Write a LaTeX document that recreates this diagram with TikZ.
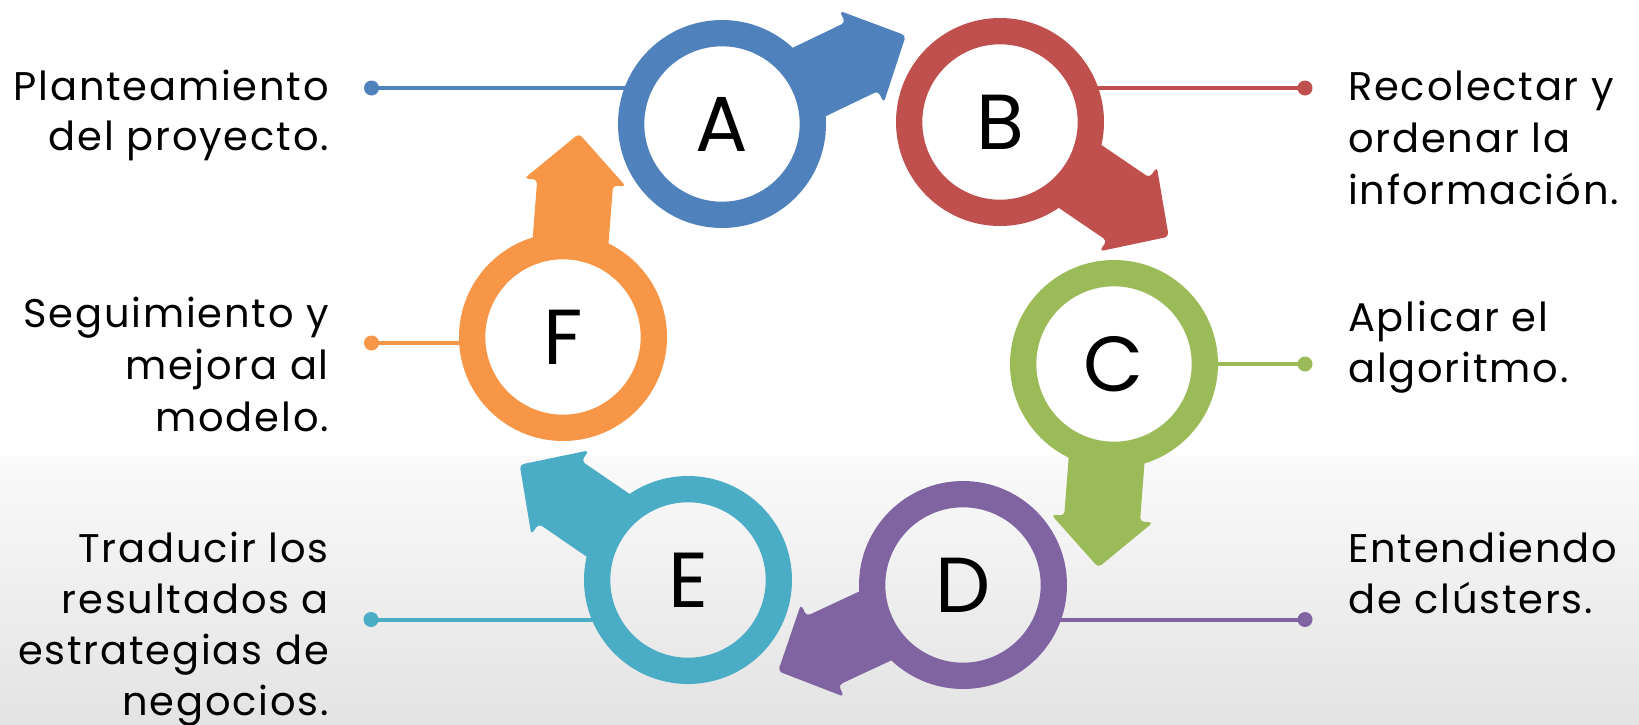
\documentclass[tikz,border=0pt]{standalone}
\usepackage{fontspec}
\setmainfont{Poppins}
\newfontfamily\lblfont{Poppins}[LetterSpace=4.5]
\usetikzlibrary{calc}
\definecolor{cA}{HTML}{4F81BD}
\definecolor{cB}{HTML}{C0504D}
\definecolor{cC}{HTML}{9BBB59}
\definecolor{cD}{HTML}{8064A2}
\definecolor{cE}{HTML}{4BACC6}
\definecolor{cF}{HTML}{F79646}
\newcommand{\ringarrow}[3]{%
  \fill[#2, even odd rule] (#1.center) circle[radius=104pt] (#1.center) circle[radius=77.7pt];
  \fill[#2, rounded corners=4pt, shift={(#1.center)}, rotate=#3]
    (85,-38) -- (155,-38) -- (155,-51) -- (204,0) -- (155,51) -- (155,38) -- (85,38) -- cycle;
}
\begin{document}
\begin{tikzpicture}[x=1pt,y=-1pt,
  letter/.style={circle, minimum size=208pt, inner sep=0pt, text=black, font=\fontsize{78pt}{80pt}\selectfont},
  dot/.style={circle, inner sep=0pt, minimum size=15pt, fill=#1},
  conn/.style={line width=4pt, draw=#1},
  lbl/.style={inner sep=0pt, text=black, font=\lblfont\fontsize{40pt}{48pt}\selectfont}]
\useasboundingbox (0,0) rectangle (1639,724);
\fill[white] (0,0) rectangle (1639,724);
\shade[top color=white!98!black, bottom color=black!11] (0,456) rectangle (1639,724);

% circle nodes with letters
\node[letter] (A) at (722,124) {A};
\node[letter] (B) at (1000,122) {B};
\node[letter] (C) at (1114,364) {C};
\node[letter] (D) at (963,585) {D};
\node[letter] (E) at (688,580) {E};
\node[letter] (F) at (563,337) {F};

% dots
\node[dot=cA] (dA) at (371.5,88) {};
\node[dot=cB] (dB) at (1305,88) {};
\node[dot=cC] (dC) at (1305,364) {};
\node[dot=cD] (dD) at (1305,619.5) {};
\node[dot=cE] (dE) at (371,619.5) {};
\node[dot=cF] (dF) at (371.5,343) {};

% connectors
\draw[conn=cA] (dA.center) -- ($(A.west |- dA.center)+(20,0)$);
\draw[conn=cB] (dB.center) -- ($(B.east |- dB.center)+(-20,0)$);
\draw[conn=cC] (dC.center) -- ($(C.east |- dC.center)+(-20,0)$);
\draw[conn=cD] (dD.center) -- ($(D.east |- dD.center)+(-20,0)$);
\draw[conn=cE] (dE.center) -- ($(E.west |- dE.center)+(20,0)$);
\draw[conn=cF] (dF.center) -- ($(F.west |- dF.center)+(20,0)$);

% rings and arrows
\ringarrow{A}{cA}{25.7}
\ringarrow{B}{cB}{-34.2}
\ringarrow{C}{cC}{-94.4}
\ringarrow{D}{cD}{-155}
\ringarrow{E}{cE}{145.6}
\ringarrow{F}{cF}{85.5}

% labels
\node[lbl, anchor=base east] (tA1) at (329,100) {Planteamiento};
\node[lbl, anchor=base east] (tA2) at (329,150) {del proyecto.};
\node[lbl, anchor=base west] (tB1) at (1348,100) {Recolectar y};
\node[lbl, anchor=base west] (tB2) at (1348,152) {ordenar la};
\node[lbl, anchor=base west] (tB3) at (1348,204) {información.};
\node[lbl, anchor=base west] (tC1) at (1348,331.5) {Aplicar el};
\node[lbl, anchor=base west] (tC2) at (1348,382) {algoritmo.};
\node[lbl, anchor=base west] (tD1) at (1348,562) {Entendiendo};
\node[lbl, anchor=base west] (tD2) at (1348,613) {de clústers.};
\node[lbl, anchor=base east] (tE1) at (329,562) {Traducir los};
\node[lbl, anchor=base east] (tE2) at (329,613) {resultados a};
\node[lbl, anchor=base east] (tE3) at (329,664) {estrategias de};
\node[lbl, anchor=base east] (tE4) at (329,715) {negocios.};
\node[lbl, anchor=base east] (tF1) at (329,327) {Seguimiento y};
\node[lbl, anchor=base east] (tF2) at (329,379.5) {mejora al};
\node[lbl, anchor=base east] (tF3) at (329,431.5) {modelo.};
\end{tikzpicture}
\end{document}
